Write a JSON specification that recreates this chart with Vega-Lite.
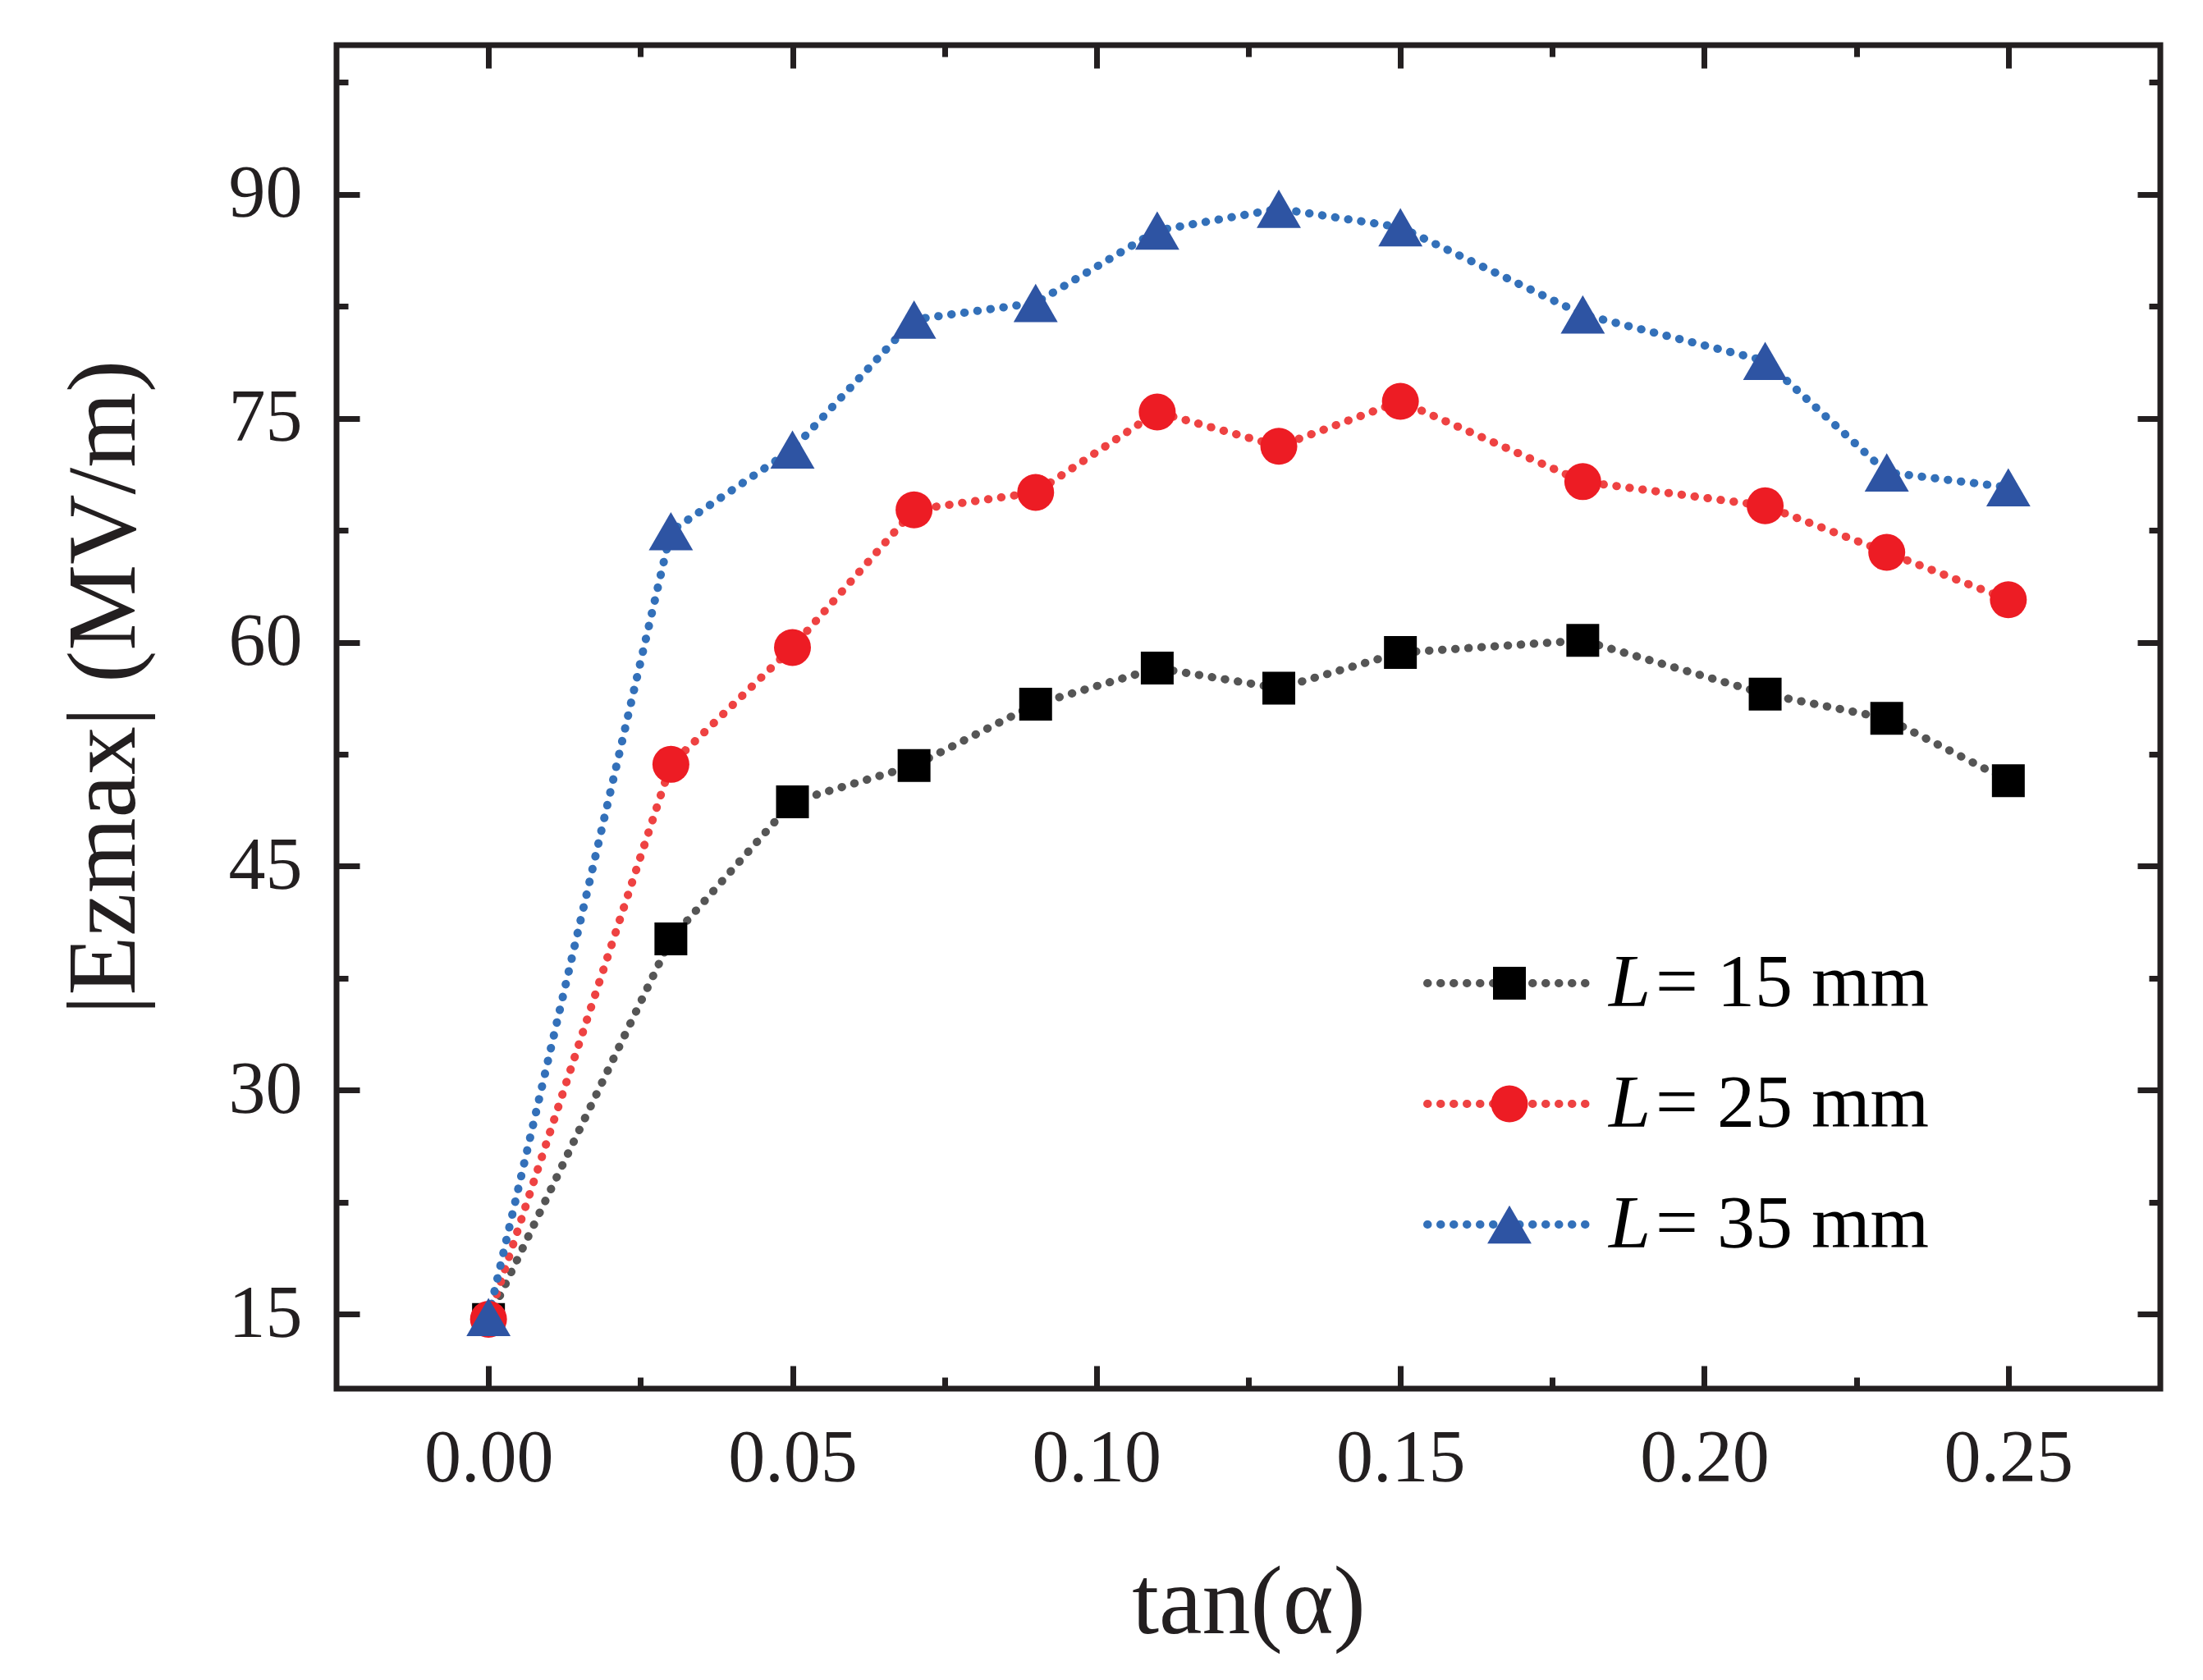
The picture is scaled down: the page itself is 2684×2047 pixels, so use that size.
{
  "$schema": "https://vega.github.io/schema/vega-lite/v6.json",
  "background": "white",
  "autosize": {"type": "none"},
  "padding": {"left": 410, "top": 55, "right": 52, "bottom": 355},
  "width": 2222,
  "height": 1637,
  "data": {
    "values": [
      {"t": 0.00, "v": 14.63, "s": "L15"},
      {"t": 0.03, "v": 40.13, "s": "L15"},
      {"t": 0.05, "v": 49.31, "s": "L15"},
      {"t": 0.07, "v": 51.74, "s": "L15"},
      {"t": 0.09, "v": 55.85, "s": "L15"},
      {"t": 0.11, "v": 58.27, "s": "L15"},
      {"t": 0.13, "v": 56.92, "s": "L15"},
      {"t": 0.15, "v": 59.31, "s": "L15"},
      {"t": 0.18, "v": 60.12, "s": "L15"},
      {"t": 0.21, "v": 56.53, "s": "L15"},
      {"t": 0.23, "v": 54.90, "s": "L15"},
      {"t": 0.25, "v": 50.73, "s": "L15"},
      {"t": 0.00, "v": 14.65, "s": "L25"},
      {"t": 0.03, "v": 51.82, "s": "L25"},
      {"t": 0.05, "v": 59.65, "s": "L25"},
      {"t": 0.07, "v": 68.87, "s": "L25"},
      {"t": 0.09, "v": 70.04, "s": "L25"},
      {"t": 0.11, "v": 75.42, "s": "L25"},
      {"t": 0.13, "v": 73.13, "s": "L25"},
      {"t": 0.15, "v": 76.14, "s": "L25"},
      {"t": 0.18, "v": 70.76, "s": "L25"},
      {"t": 0.21, "v": 69.14, "s": "L25"},
      {"t": 0.23, "v": 66.02, "s": "L25"},
      {"t": 0.25, "v": 62.85, "s": "L25"},
      {"t": 0.00, "v": 14.80, "s": "L35"},
      {"t": 0.03, "v": 67.44, "s": "L35"},
      {"t": 0.05, "v": 72.91, "s": "L35"},
      {"t": 0.07, "v": 81.62, "s": "L35"},
      {"t": 0.09, "v": 82.73, "s": "L35"},
      {"t": 0.11, "v": 87.58, "s": "L35"},
      {"t": 0.13, "v": 89.04, "s": "L35"},
      {"t": 0.15, "v": 87.80, "s": "L35"},
      {"t": 0.18, "v": 81.96, "s": "L35"},
      {"t": 0.21, "v": 78.85, "s": "L35"},
      {"t": 0.23, "v": 71.38, "s": "L35"},
      {"t": 0.25, "v": 70.38, "s": "L35"}
    ]
  },
  "layer": [
    {
      "mark": {"type": "line", "strokeWidth": 10, "strokeDash": [0.5, 15.5], "strokeCap": "round"},
      "encoding": {
        "x": {
          "field": "t", "type": "quantitative",
          "scale": {"domain": [-0.025, 0.275], "nice": false, "zero": false},
          "axis": {
            "orient": "bottom",
            "title": "tan(α)",
            "titleY": 297,
            "titleBaseline": "alphabetic",
            "values": [0, 0.025, 0.05, 0.075, 0.1, 0.125, 0.15, 0.175, 0.2, 0.225, 0.25],
            "labelExpr": "round(datum.value*1000) % 50 == 0 ? format(datum.value, '.2f') : ''",
            "labelBaseline": "alphabetic",
            "labelPadding": 140,
            "labelFlush": false,
            "labelOverlap": false,
            "tickSize": {"condition": {"test": "round(datum.value*1000) % 50 != 0", "value": -14}, "value": -28}
          }
        },
        "y": {
          "field": "v", "type": "quantitative",
          "scale": {"domain": [10, 100], "nice": false, "zero": false},
          "axis": {
            "orient": "left",
            "title": "|Ezmax| (MV/m)",
            "titleX": -247,
            "titleY": 782,
            "titleBaseline": "alphabetic",
            "values": [15, 22.5, 30, 37.5, 45, 52.5, 60, 67.5, 75, 82.5, 90, 97.5],
            "labelExpr": "datum.value % 15 == 0 ? format(datum.value, 'd') : ''",
            "labelPadding": 70,
            "labelFlush": false,
            "labelOverlap": false,
            "tickSize": {"condition": {"test": "datum.value % 15 != 0", "value": -14}, "value": -28}
          }
        },
        "stroke": {
          "field": "s", "type": "nominal",
          "scale": {"range": ["#555555", "#ee4242", "#3370b9"]},
          "legend": {
            "orient": "none",
            "legendX": 1324,
            "legendY": 1093,
            "title": null,
            "symbolType": "stroke",
            "symbolSize": 42025,
            "symbolStrokeWidth": 10,
            "symbolDash": [0.5, 15.5],
            "clipHeight": 100,
            "rowPadding": 47,
            "labelOffset": 68,
            "labelExpr": "'= ' + slice(datum.label, 1) + ' mm'",
            "labelFontSize": 92,
            "labelFontStyle": "normal",
            "padding": 0,
            "encode": {"symbols": {"update": {"strokeCap": {"value": "round"}}}}
          }
        }
      }
    },
    {
      "mark": {"type": "point", "filled": true, "opacity": 1, "strokeWidth": 0},
      "encoding": {
        "x": {"field": "t", "type": "quantitative", "axis": null},
        "y": {"field": "v", "type": "quantitative", "axis": null},
        "fill": {
          "field": "s", "type": "nominal",
          "scale": {"domain": ["L15", "L25", "L35"], "range": ["#000000", "#ed1c24", "#2e54a3"]},
          "legend": {
            "orient": "none",
            "legendX": 1383,
            "legendY": 1093,
            "title": null,
            "clipHeight": 100,
            "rowPadding": 47,
            "labelOffset": 75,
            "labelExpr": "'L'",
            "labelFontStyle": "italic",
            "labelFontSize": 92,
            "padding": 0
          }
        },
        "shape": {
          "field": "s", "type": "nominal",
          "scale": {"domain": ["L15", "L25", "L35"], "range": ["square", "circle", "triangle-up"]}
        },
        "size": {
          "field": "s", "type": "nominal",
          "scale": {"type": "ordinal", "domain": ["L15", "L25", "L35"], "range": [1600, 2025, 2900]}
        }
      }
    },
    {
      "mark": {"type": "point", "opacity": 0},
      "encoding": {
        "x": {
          "field": "t", "type": "quantitative",
          "axis": {
            "orient": "top", "title": null, "labels": false,
            "values": [0, 0.025, 0.05, 0.075, 0.1, 0.125, 0.15, 0.175, 0.2, 0.225, 0.25],
            "tickSize": {"condition": {"test": "round(datum.value*1000) % 50 != 0", "value": -14}, "value": -28}
          }
        },
        "y": {
          "field": "v", "type": "quantitative",
          "axis": {
            "orient": "right", "title": null, "labels": false,
            "values": [15, 22.5, 30, 37.5, 45, 52.5, 60, 67.5, 75, 82.5, 90, 97.5],
            "tickSize": {"condition": {"test": "datum.value % 15 != 0", "value": -14}, "value": -28}
          }
        }
      }
    }
  ],
  "resolve": {"axis": {"x": "independent", "y": "independent"}},
  "config": {
    "font": "Liberation Serif",
    "view": {"stroke": "#231f20", "strokeWidth": 7},
    "axis": {
      "domain": false,
      "grid": false,
      "labelFont": "Liberation Serif",
      "titleFont": "Liberation Serif",
      "labelColor": "#231f20",
      "titleColor": "#231f20",
      "tickColor": "#231f20",
      "tickWidth": 7,
      "labelFontSize": 90,
      "titleFontSize": 118,
      "titleFontWeight": "normal"
    },
    "legend": {
      "labelFont": "Liberation Serif",
      "labelColor": "#000000",
      "labelLimit": 0
    }
  }
}
